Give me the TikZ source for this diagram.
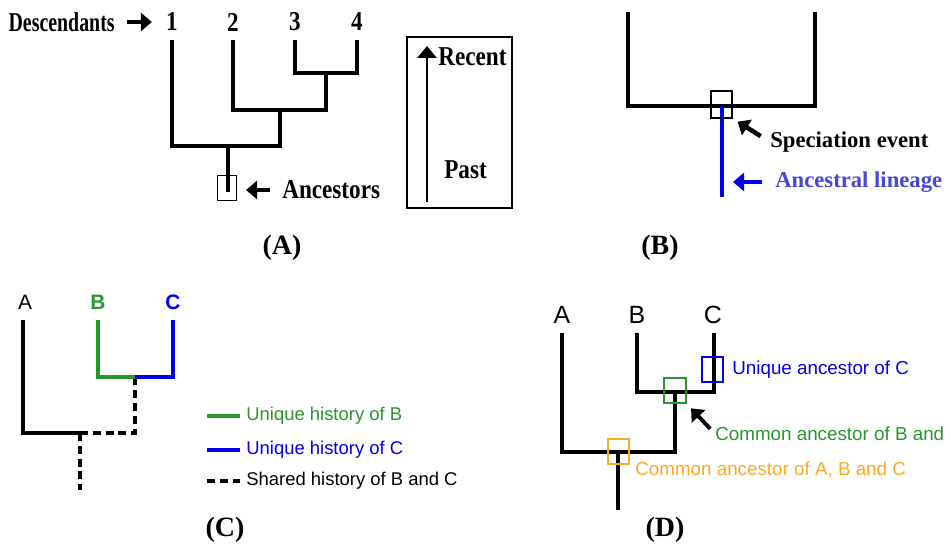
\documentclass[tikz,border=0pt]{standalone}
\usepackage{fontspec}
\setmainfont{Liberation Serif}
\setsansfont{Liberation Sans}
\newfontfamily\condserif[FakeStretch=0.85]{Liberation Serif}
\newfontfamily\narrowserif[FakeStretch=0.73]{Liberation Serif}
\usepackage{tikz}
\usetikzlibrary{arrows.meta, positioning}
\definecolor{histgreen}{RGB}{40,150,40}
\definecolor{histblue}{RGB}{0,0,235}
\definecolor{linblue}{RGB}{70,70,215}
\definecolor{ancorange}{RGB}{250,170,40}

\begin{document}
\begin{tikzpicture}[x=0.02cm, y=-0.02cm,
    branch/.style={line width=2.3pt},
    cbranch/.style={line width=1.9pt},
    fatarrow/.style={line width=2.6pt, -{Triangle[length=0.22cm, width=0.36cm]}},
    timearrow/.style={line width=1.7pt, -{Triangle[length=0.24cm, width=0.38cm]}},
    evbox/.style={draw, line width=0.6pt, inner sep=0pt, minimum width=0.38cm, minimum height=0.5cm},
    ancbox/.style={draw, line width=1.1pt, inner sep=0pt, minimum width=0.42cm, minimum height=0.5cm},
    serlab/.style={inner sep=0pt, font=\condserif\bfseries\fontsize{15.5}{18}\selectfont},
    desclab/.style={inner sep=0pt, font=\narrowserif\bfseries\fontsize{15.5}{18}\selectfont},
    serlabB/.style={inner sep=0pt, font=\bfseries\fontsize{12.9}{15}\selectfont},
    panellab/.style={inner sep=0pt, font=\bfseries\fontsize{15.9}{18}\selectfont},
    cletter/.style={inner sep=0pt, font=\sffamily\fontsize{11.9}{14}\selectfont},
    dletter/.style={inner sep=0pt, font=\sffamily\fontsize{14.2}{17}\selectfont},
    legend/.style={inner sep=0pt, anchor=west, font=\sffamily\fontsize{10.5}{13}\selectfont},
    dlab/.style={inner sep=0pt, anchor=west, font=\sffamily\fontsize{10.7}{13}\selectfont}]
    \useasboundingbox (0,0) rectangle (951,551);

    % (A) tree
    \node[desclab, anchor=east] (desc) at (115,22) {Descendants};
    \node[serlab] (n1) at (172,22) {1};
    \node[serlab] (n2) at (233,22) {2};
    \node[serlab] (n3) at (295,22) {3};
    \node[serlab] (n4) at (357,22) {4};
    \coordinate (t1) at (172,40);
    \coordinate (t2) at (233,40);
    \coordinate (t3) at (295,40);
    \coordinate (t4) at (357,40);
    \coordinate (j34) at (326,73);
    \coordinate (j234) at (280,110);
    \coordinate (j1234) at (228,146);
    \coordinate (rootA) at (228,192);
    \draw[branch] (t3) |- (j34) -| (t4);
    \draw[branch] (j34) -- (j34 |- j234) -| (t2);
    \draw[branch] (j234) -- (j234 |- j1234) -| (t1);
    \draw[branch] (j1234) -- (rootA);
    \node[evbox] (ancbox) at (227,188) {};
    \node[serlab, anchor=west] (anclab) at (282,190) {Ancestors};
    \draw[fatarrow, shorten <=0.24cm, shorten >=0.28cm] (desc.east) -- (n1.west);
    \draw[fatarrow, shorten <=0.24cm, shorten >=0.18cm] (anclab.west) -- (anclab.west -| ancbox.east);

    % time axis
    \node[draw, line width=0.8pt, inner sep=0pt, minimum width=2.1cm, minimum height=3.42cm] (timebox) at (459.5,122.5) {};
    \coordinate (past) at (427,202);
    \coordinate (recent) at (427,46);
    \draw[timearrow] (past) -- (recent);
    \node[serlab, anchor=west] (reclab) at (438,57) {Recent};
    \node[serlab, anchor=west] (pastlab) at (444,170) {Past};

    % (B) speciation
    \coordinate (bl) at (628,12);
    \coordinate (br) at (815,12);
    \coordinate (spec) at (722,106);
    \coordinate (lin) at (722,197);
    \draw[branch] (bl) |- (spec) -| (br);
    \draw[line width=2pt, histblue] (spec) -- (lin);
    \node[evbox, minimum width=0.42cm, minimum height=0.54cm] (specbox) at (721.5,104.5) {};
    \node[serlabB, anchor=west] (speclab) at (770,142) {Speciation event};
    \node[serlabB, anchor=west, text=linblue] (linlab) at (775,182) {Ancestral lineage};
    \draw[fatarrow, shorten <=0.22cm, shorten >=0.12cm] (speclab.west) -- (specbox.south east);
    \draw[fatarrow, histblue, shorten <=0.26cm, shorten >=0.22cm] (linlab.west) -- (linlab.west -| lin);

    % panel labels
    \node[panellab] (labA) at (282,248) {(A)};
    \node[panellab] (labB) at (660,248) {(B)};
    \node[panellab] (labC) at (225,530) {(C)};
    \node[panellab] (labD) at (665,530) {(D)};

    % (C) shared history
    \node[cletter] (cA) at (25,302) {A};
    \node[cletter, text=histgreen] (cB) at (98,302) {\bfseries B};
    \node[cletter, text=histblue] (cC) at (173,302) {\bfseries C};
    \coordinate (uA) at (23,320);
    \coordinate (uB) at (98,320);
    \coordinate (uC) at (173,320);
    \coordinate (jBC) at (135,377);
    \coordinate (jABC) at (80,433);
    \coordinate (rootC) at (80,490);
    \draw[cbranch] (uA) |- (jABC);
    \draw[cbranch, dash pattern=on 4.5pt off 2.8pt] (jABC) -| (jBC);
    \draw[cbranch, dash pattern=on 4.5pt off 2.8pt] (jABC) -- (rootC);
    \draw[cbranch, histgreen] (uB) |- (jBC);
    \draw[cbranch, histblue] (uC) |- (jBC);
    \node[legend, text=histgreen] (legB) at (246,416) {Unique history of B};
    \node[legend, text=histblue] (legC) at (246,450) {Unique history of C};
    \node[legend] (legS) at (246,481) {Shared history of B and C};
    \draw[cbranch, histgreen] ([xshift=-0.78cm]legB.west) -- ([xshift=-0.12cm]legB.west);
    \draw[cbranch, histblue] ([xshift=-0.78cm]legC.west) -- ([xshift=-0.12cm]legC.west);
    \draw[cbranch, dash pattern=on 4.5pt off 2.8pt] ([xshift=-0.78cm]legS.west) -- ([xshift=-0.12cm]legS.west);

    % (D) common ancestors
    \node[dletter] (dA) at (562,315) {A};
    \node[dletter] (dB) at (637,315) {B};
    \node[dletter] (dC) at (713,315) {C};
    \coordinate (vA) at (562,333);
    \coordinate (vB) at (637,333);
    \coordinate (vC) at (714,333);
    \coordinate (kBC) at (675,392);
    \coordinate (kABC) at (618,452);
    \coordinate (rootD) at (618,510);
    \draw[cbranch] (vB) |- (kBC) -| (vC);
    \draw[cbranch] (vA) |- (kABC) -| (kBC);
    \draw[cbranch] (kABC) -- (rootD);
    \node[ancbox, histblue] (uniqbox) at (712.5,369.5) {};
    \node[ancbox, histgreen, minimum width=0.44cm] (comBCbox) at (675,390.5) {};
    \node[ancbox, ancorange] (comABCbox) at (618.5,451.5) {};
    \node[dlab, text=histblue] (uniqlab) at (732,370) {Unique ancestor of C};
    \node[dlab, text=histgreen] (comBClab) at (715,434) {Common ancestor of B and};
    \node[dlab, text=ancorange] (comABClab) at (635,470) {Common ancestor of A, B and C};
    \draw[fatarrow, line width=2.2pt, shorten <=0.14cm, shorten >=0.12cm] (comBClab.west) -- (comBCbox.south east);
\end{tikzpicture}
\end{document}
